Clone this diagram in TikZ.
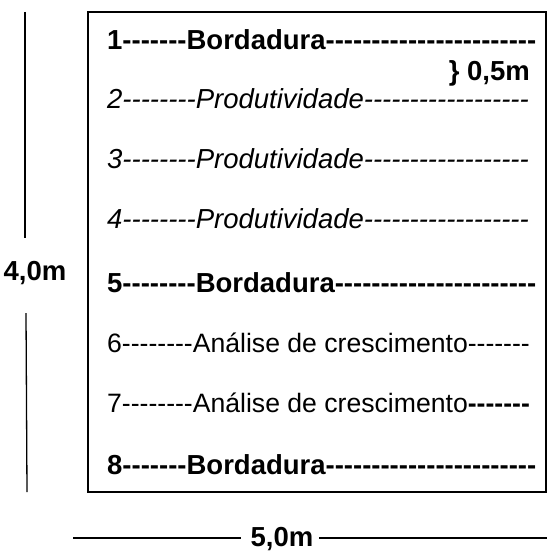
\documentclass[tikz,border=0pt]{standalone}
\usepackage{fontspec}
\setmainfont{Liberation Sans}[Ligatures=TeXOff]
\begin{document}
\begin{tikzpicture}[x=1pt,y=-1pt,
  rowtxt/.style={anchor=base west,inner sep=0pt,font=\fontsize{27.5}{32}\selectfont},
  plaintxt/.style={rowtxt,font=\fontsize{26.6}{32}\selectfont},
  dimtxt/.style={anchor=base,inner sep=0pt,font=\fontsize{27.5}{32}\selectfont\bfseries},
  dimline/.style={line width=1.3pt},
  boxline/.style={line width=1.8pt}]
\useasboundingbox (0,0) rectangle (547,551);
\draw[boxline] (88,12) rectangle (546,492);
\node[rowtxt] (r1) at (107,50) {\bfseries 1-------Bordadura-----------------------};
\node[rowtxt,anchor=base east] (h) at (530,81) {\bfseries \} 0,5m};
\node[rowtxt] (r2) at (107,108) {\itshape 2--------Produtividade------------------};
\node[rowtxt] (r3) at (107,168) {\itshape 3--------Produtividade------------------};
\node[rowtxt] (r4) at (107,228) {\itshape 4--------Produtividade------------------};
\node[rowtxt] (r5) at (107,292) {\bfseries 5--------Bordadura----------------------};
\node[plaintxt] (r6) at (107,352) {6--------Análise de crescimento-------};
\node[plaintxt] (r7) at (107,412) {7--------Análise de crescimento\textbf{-------}};
\node[rowtxt] (r8) at (107,474) {\bfseries 8-------Bordadura-----------------------};
\node[dimtxt] (v) at (35,280) {4,0m};
\node[dimtxt] (w) at (282,546) {5,0m};
\coordinate (vt) at (25,12);
\coordinate (vb) at (27,492);
\draw[dimline] (vt) -- (25,238);
\draw[dimline] (26,313) -- (vb);
\coordinate (wl) at (73,538);
\coordinate (wr) at (547,538);
\draw[dimline] (wl) -- (241,538);
\draw[dimline] (319,538) -- (wr);
\end{tikzpicture}
\end{document}
